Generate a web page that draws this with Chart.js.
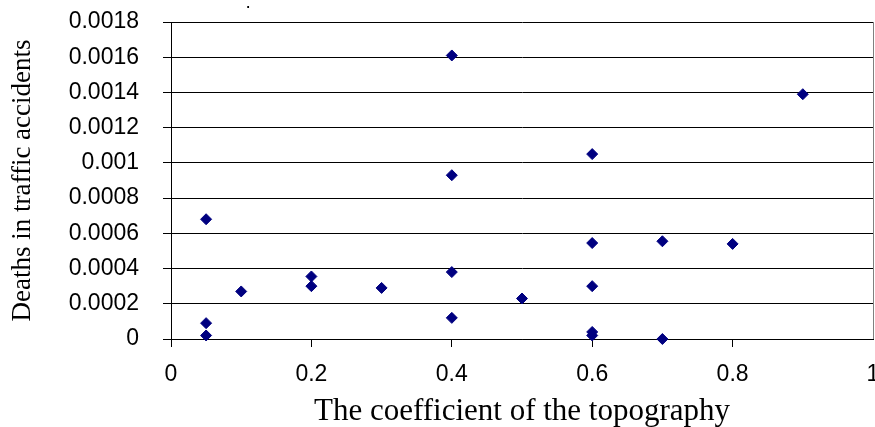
<!DOCTYPE html>
<html>
<head>
<meta charset="utf-8">
<script src="https://cdn.jsdelivr.net/npm/chart.js@4/dist/chart.umd.min.js"></script>
<style>
  html, body { margin: 0; padding: 0; background: #fff; }
  #wrap { width: 875px; height: 427px; }
</style>
</head>
<body>
<div id="wrap"><canvas id="c" width="875" height="427"></canvas></div>
<script>
// Data
const xValues = [0.05, 0.05, 0.05, 0.1, 0.2, 0.2, 0.3, 0.4, 0.4, 0.4, 0.4, 0.5, 0.6, 0.6, 0.6, 0.6, 0.6, 0.7, 0.7, 0.8, 0.9];
const yValues = [0.00068, 0.00009, 0.00002, 0.00027, 0.000355, 0.0003, 0.00029, 0.00161, 0.00093, 0.00038, 0.00012, 0.00023, 0.00105, 0.000545, 0.0003, 0.00004, 0.00002, 0.000555, 0, 0.00054, 0.00139];
const xTickLabels = ['0', '0.2', '0.4', '0.6', '0.8', '1'];
const yTickLabels = ['0', '0.0002', '0.0004', '0.0006', '0.0008', '0.001', '0.0012', '0.0014', '0.0016', '0.0018'];
const xTitle = 'The coefficient of the topography';
const yTitle = 'Deaths in traffic accidents';
const strayTitle = '.';

const points = xValues.map((x, i) => ({ x: x, y: yValues[i] }));

const dotPlugin = {
  id: 'strayDot',
  afterDraw(chart) {
    const ctx = chart.ctx;
    ctx.save();
    ctx.fillStyle = '#000';
    ctx.font = '19px "Liberation Sans", Arial, sans-serif';
    ctx.textBaseline = 'alphabetic';
    ctx.textAlign = 'left';
    ctx.fillText(strayTitle, 245.6, 8);
    ctx.restore();
  }
};

new Chart(document.getElementById('c'), {
  type: 'scatter',
  data: {
    datasets: [{
      data: points,
      pointStyle: 'rectRot',
      pointRadius: 5.5,
      pointHoverRadius: 5.5,
      backgroundColor: '#000080',
      borderColor: '#000080',
      borderWidth: 1,
      clip: false
    }]
  },
  options: {
    responsive: false,
    devicePixelRatio: 1,
    animation: false,
    events: [],
    layout: { autoPadding: false, padding: { top: 22, right: 2, bottom: 0, left: 0 } },
    plugins: { legend: { display: false }, tooltip: { enabled: false }, title: { display: false } },
    scales: {
      x: {
        type: 'linear',
        min: 0, max: 1,
        ticks: {
          stepSize: 0.2,
          color: '#000',
          padding: 14,
          maxRotation: 0,
          autoSkip: false,
          font: { family: '"Liberation Sans", Arial, sans-serif', size: 23 },
          callback: (v, i) => xTickLabels[i]
        },
        grid: {
          drawOnChartArea: true,
          color: (c) => (c.tick && c.tick.value === 1) ? '#808080' : 'rgba(0,0,0,0)',
          tickColor: (c) => (c.tick && c.tick.value === 1) ? 'rgba(0,0,0,0)' : '#000',
          tickLength: 8,
          lineWidth: 1
        },
        border: { display: true, color: '#000', width: 1 },
        title: {
          display: true,
          text: xTitle,
          color: '#000',
          font: { family: '"Liberation Serif", "Times New Roman", serif', size: 31, lineHeight: 1 },
          padding: { top: 0, bottom: 0 }
        },
        afterFit: (s) => { s.height = 88; s.paddingLeft = 0; s.paddingRight = 0; }
      },
      y: {
        type: 'linear',
        min: 0, max: 0.0018,
        ticks: {
          stepSize: 0.0002,
          color: '#000',
          padding: 24,
          autoSkip: false,
          font: { family: '"Liberation Sans", Arial, sans-serif', size: 23 },
          callback: (v, i) => yTickLabels[i]
        },
        grid: {
          color: '#000',
          tickColor: '#000',
          tickLength: 8,
          lineWidth: 1
        },
        border: { display: true, color: '#000', width: 1 },
        title: {
          display: true,
          text: yTitle,
          color: '#000',
          font: { family: '"Liberation Serif", "Times New Roman", serif', size: 27, lineHeight: 1 },
          padding: { top: 9, bottom: 0 }
        },
        afterFit: (s) => { s.width = 171; s.paddingTop = 0; s.paddingBottom = 0; }
      }
    }
  },
  plugins: [dotPlugin]
});
</script>
</body>
</html>
